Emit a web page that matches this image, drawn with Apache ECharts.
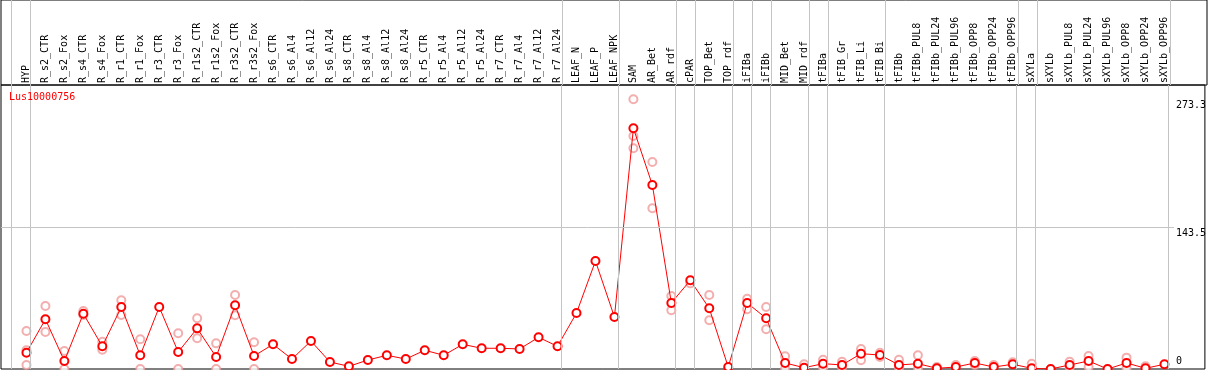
<!DOCTYPE html>
<html>
<head>
<meta charset="utf-8">
<script src="https://cdn.jsdelivr.net/npm/echarts@6/dist/echarts.min.js"></script>
<style>
  html, body { margin: 0; padding: 0; background: #fff; }
  #chart { width: 1209px; height: 370px; }
</style>
</head>
<body>
<div id="chart"></div>
<script>
// sample names along the top
const categories = [
  'HYP', 'R_s2_CTR', 'R_s2_Fox', 'R_s4_CTR', 'R_s4_Fox', 'R_r1_CTR', 'R_r1_Fox',
  'R_r3_CTR', 'R_r3_Fox', 'R_r1s2_CTR', 'R_r1s2_Fox', 'R_r3s2_CTR', 'R_r3s2_Fox',
  'R_s6_CTR', 'R_s6_Al4', 'R_s6_Al12', 'R_s6_Al24', 'R_s8_CTR', 'R_s8_Al4',
  'R_s8_Al12', 'R_s8_Al24', 'R_r5_CTR', 'R_r5_Al4', 'R_r5_Al12', 'R_r5_Al24',
  'R_r7_CTR', 'R_r7_Al4', 'R_r7_Al12', 'R_r7_Al24', 'LEAF_N', 'LEAF_P', 'LEAF_NPK',
  'SAM', 'AR_Bet', 'AR_rdf', 'cPAR', 'TOP_Bet', 'TOP_rdf', 'iFIBa', 'iFIBb',
  'MID_Bet', 'MID_rdf', 'tFIBa', 'tFIB_Gr', 'tFIB_Li', 'tFIB_Bi', 'tFIBb',
  'tFIBb_PUL8', 'tFIBb_PUL24', 'tFIBb_PUL96', 'tFIBb_OPP8', 'tFIBb_OPP24', 'tFIBb_OPP96',
  'sXYLa', 'sXYLb', 'sXYLb_PUL8', 'sXYLb_PUL24', 'sXYLb_PUL96', 'sXYLb_OPP8',
  'sXYLb_OPP24', 'sXYLb_OPP96'
];

// mean expression per sample
const means = [
  16.5, 50.4, 8.1, 56.0, 23.0, 62.8, 13.9, 62.8, 17.2, 41.2, 12.2, 64.6, 13.2,
  25.0, 10.1, 28.4, 7.1, 2.7, 9.1, 13.9, 10.1, 19.0, 13.9, 25.0, 21.0,
  21.0, 20.3, 32.1, 23.0, 56.7, 109.4, 52.7,
  243.9, 186.5, 66.9, 89.9, 61.5, 2.0, 66.9, 51.4,
  6.1, 1.3, 5.4, 4.1, 15.5, 14.2, 4.1,
  5.4, 0.7, 2.0, 6.1, 2.0, 4.8,
  0.7, 0, 4.1, 8.1, 0, 6.1, 0.7, 4.8
];

// replicate values (null = hidden behind the mean)
const repHigh = [
  38.5, 63.8, 18.2, 58.8, 27.7, 69.6, 30.1, null, 36.2, 51.4, 26.0, 75.0, 27.1,
  null, null, null, null, null, null, null, null, null, null, null, null,
  null, null, null, null, null, null, null,
  273.3, 209.8, 74.0, 86.8, 75.0, null, 71.2, 62.8,
  12.9, 4.8, 9.4, 7.4, 20.3, 16.5, 9.4,
  13.9, 2.0, 4.1, 8.1, 4.1, 6.8,
  5.4, null, 7.4, 13.2, null, 11.5, 2.7, null
];
const repLow = [
  4.1, 37.5, 0, 54.7, 19.6, 54.7, 0, null, 0, 31.1, 0, 54.4, 0,
  null, null, null, null, null, null, null, null, null, null, null, null,
  null, null, null, null, null, null, null,
  223.7, 162.9, 59.5, null, 49.4, null, 60.5, 40.2,
  0, null, 1.3, 1.3, 8.8, 12.2, 0.7,
  0, null, null, 4.1, null, null,
  null, null, 1.3, 2.0, null, 0.7, null, null
];
const repMid = categories.map(() => null);
repMid[0] = 19.0;
repMid[32] = 236.1;

// group separators, drawn just after these sample indices
const dividerAfter = [-1, 0, 28, 31, 34, 35, 37, 38, 39, 41, 42, 45, 52, 53, 60];
const yTicks = [0, 143.5, 273.3];

const font = 'DejaVu Sans Mono';
const xMin = (1 - 26.5) / 19;
const xMax = (1207 - 26.5) / 19;
const yMax = (369 - 85) / 0.9868;

const meanData = means.map((v, i) => [i, v]);
const repData = [];
[repHigh, repMid, repLow].forEach((arr) => {
  arr.forEach((v, i) => {
    if (v !== null) repData.push([i, v]);
  });
});

const dividerLine = {
  silent: true,
  symbol: 'none',
  label: { show: false },
  lineStyle: { color: '#c4c4c4', width: 1, type: 'solid' },
};

const hiddenAxis = {
  axisLine: { show: false },
  axisTick: { show: false },
  splitLine: { show: false },
  axisLabel: { show: false },
};

const chart = echarts.init(document.getElementById('chart'));
chart.setOption({
  animation: false,
  title: {
    text: 'Lus10000756',
    left: 9,
    top: 92,
    padding: 0,
    textStyle: { color: '#ff0000', fontSize: 10, fontFamily: font, fontWeight: 'normal' },
  },
  grid: [
    // plot area
    { left: 1, right: 2, top: 85, bottom: 1, show: true, borderColor: '#000', borderWidth: 1 },
    // label strip above it
    { left: 1, right: 2, top: 0, height: 85, show: true, borderColor: '#000', borderWidth: 1 },
  ],
  xAxis: [
    {
      type: 'value',
      gridIndex: 0,
      position: 'top',
      min: xMin,
      max: xMax,
      axisLine: { show: false, onZero: false },
      axisTick: { show: false },
      splitLine: { show: false },
      axisLabel: {
        customValues: categories.map((c, i) => i),
        formatter: (v) => categories[v],
        rotate: -90,
        margin: 2,
        color: '#000',
        fontSize: 10,
        fontFamily: font,
      },
    },
    { type: 'value', gridIndex: 1, min: xMin, max: xMax, ...hiddenAxis },
  ],
  yAxis: [
    {
      type: 'value',
      gridIndex: 0,
      position: 'right',
      min: 0,
      max: yMax,
      axisLine: { show: false },
      axisTick: { show: false },
      splitLine: { show: false },
      axisLabel: {
        customValues: yTicks.slice(1),
        margin: -29,
        verticalAlign: 'top',
        padding: [1, 0, 0, 0],
        color: '#000',
        fontSize: 10,
        fontFamily: font,
      },
    },
    {
      type: 'value',
      gridIndex: 0,
      position: 'right',
      min: 0,
      max: yMax,
      axisLine: { show: false },
      axisTick: { show: false },
      splitLine: { show: false },
      axisLabel: {
        customValues: yTicks.slice(0, 1),
        margin: -29,
        verticalAlign: 'bottom',
        padding: [0, 0, 3, 0],
        color: '#000',
        fontSize: 10,
        fontFamily: font,
      },
    },
    { type: 'value', gridIndex: 1, min: 0, max: 1, ...hiddenAxis },
  ],
  series: [
    {
      // dividers through the label strip
      type: 'scatter',
      xAxisIndex: 1,
      yAxisIndex: 2,
      data: [],
      markLine: {
        ...dividerLine,
        data: dividerAfter.map((d) => ({ xAxis: d + 0.21 })),
      },
    },
    {
      type: 'scatter',
      data: repData,
      symbol: 'emptyCircle',
      symbolSize: 8,
      itemStyle: { color: '#f09a9a', borderWidth: 1.2 },
      z: 2,
      markLine: {
        ...dividerLine,
        data: [
          ...dividerAfter.map((d) => ({ xAxis: d + 0.21 })),
          [{ coord: [xMin, yTicks[1]] }, { coord: [60.5, yTicks[1]] }],
        ],
      },
    },
    {
      type: 'line',
      data: meanData,
      symbol: 'emptyCircle',
      symbolSize: 8,
      itemStyle: { color: '#ff0000', borderWidth: 1.8 },
      lineStyle: { color: '#ff0000', width: 1 },
      z: 3,
    },
  ],
});
</script>
</body>
</html>
